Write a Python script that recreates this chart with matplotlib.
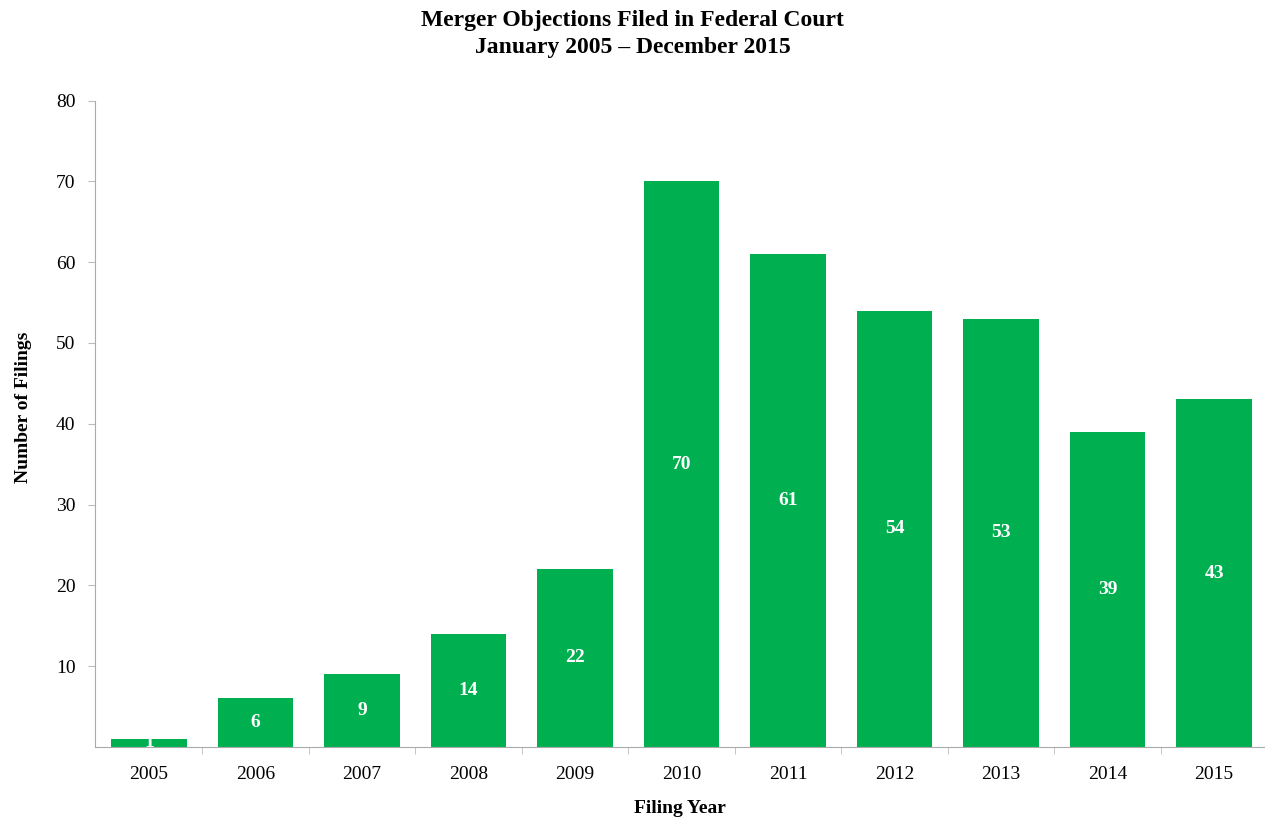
import matplotlib
matplotlib.use("Agg")
import matplotlib.pyplot as plt
import numpy as np

years = ["2005", "2006", "2007", "2008", "2009", "2010", "2011", "2012", "2013", "2014", "2015"]
filings = [1, 6, 9, 14, 22, 70, 61, 54, 53, 39, 43]
yticks = [10, 20, 30, 40, 50, 60, 70, 80]

plt.rcParams['font.family'] = ['Liberation Serif', 'DejaVu Serif']

fig = plt.figure(figsize=(12.65, 8.18), dpi=100)
ax = fig.add_axes([0.0751, 0.087, 0.925, 0.79])

x = np.arange(len(years))
ax.bar(x, filings, width=0.71, color="#00B050", zorder=2)
for xi, v in zip(x, filings):
    ax.text(xi, v / 2, str(v), ha="center", va="center", color="white",
            fontsize=14, fontweight="bold", zorder=3)

ax.set_xlim(-0.507, 10.48)
ax.set_ylim(0, 80)
ax.set_yticks(yticks)
ax.set_yticklabels([str(t) for t in yticks], fontsize=14)
ax.set_xticks(x)
ax.set_xticklabels(years, fontsize=14)
ax.set_xticks(np.arange(0.5, len(years) - 1, 1.0), minor=True)
ax.tick_params(axis="x", which="major", length=0, pad=14)
ax.tick_params(axis="x", which="minor", length=5, color="#bbbbbb")
ax.tick_params(axis="y", length=5, color="#bbbbbb", pad=9)

for s in ["top", "right"]:
    ax.spines[s].set_visible(False)
ax.spines["left"].set_color("#aaaaaa")
ax.spines["bottom"].set_color("#aaaaaa")

ax.set_ylabel("Number of Filings", fontsize=14, fontweight="bold")
ax.yaxis.set_label_coords(-0.054, 0.525)
ax.set_xlabel("Filing Year", fontsize=14, fontweight="bold", labelpad=12)

fig.text(0.5, 0.975, "Merger Objections Filed in Federal Court",
         ha="center", va="center", fontsize=17, fontweight="bold")
fig.text(0.5, 0.942, "January 2005 \u2013 December 2015",
         ha="center", va="center", fontsize=17, fontweight="bold")

fig.savefig("out.png", dpi=100)
